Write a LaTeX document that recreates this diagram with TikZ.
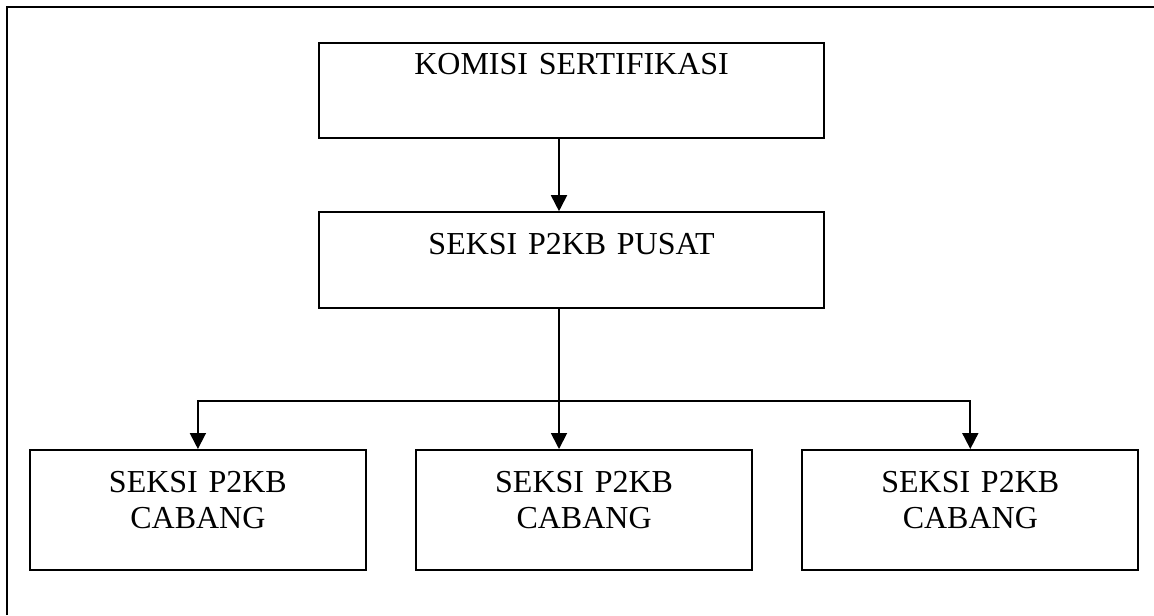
\documentclass[tikz,border=0pt]{standalone}
\usepackage{fontspec}
\setmainfont{Liberation Serif}
\usetikzlibrary{positioning}
\usetikzlibrary{arrows.meta}

\begin{document}
\begin{tikzpicture}[
    x=0.5pt, y=-0.5pt,
    node distance=24pt,
    >={Triangle[length=8pt,width=8pt]},
    % node styles
    box/.style = {
      draw,
      line width=1.1pt,
      inner sep=0pt,
      align=center,
      font=\fontsize{16}{18}\selectfont
    },
    headbox/.style = {box, text width=252.5pt, text height=15.5pt, text depth=32pt},
    seksibox/.style = {box, text width=252.5pt, text height=21pt, text depth=27pt},
    cabangbox/.style = {box, text width=168pt, text height=21pt, text depth=39pt},
    % line styles
    frame/.style = {line width=1.3pt},
    arr/.style = {->, line width=0.9pt}
  ]
  \useasboundingbox (0,0) rectangle (1154,615);

  % --- outer frame
  \draw[frame] (7,615) -- (7,7) -- (1154,7);

  % --- Nodes
  \node[headbox, anchor=north west] (komisi) at (318,42) {KOMISI SERTIFIKASI};

  \node[seksibox, below=36pt of komisi.south west, anchor=north west] (pusat) {SEKSI P2KB PUSAT};

  \node[cabangbox, anchor=north west] (cabangB) at (415,449) {SEKSI P2KB\\CABANG};
  \node[cabangbox, left=of cabangB] (cabangA) {SEKSI P2KB\\CABANG};
  \node[cabangbox, right=of cabangB] (cabangC) {SEKSI P2KB\\CABANG};

  \coordinate (trunk) at (559,401);

  % --- Arrows
  \draw[arr] (komisi.south -| trunk) -- (pusat.north -| trunk);
  \draw[line width=0.9pt] (pusat.south -| trunk) -- (trunk);
  \draw[arr] (trunk) -| (cabangA);
  \draw[arr] (trunk) -- (cabangB.north -| trunk);
  \draw[arr] (trunk) -| (cabangC);

\end{tikzpicture}
\end{document}
